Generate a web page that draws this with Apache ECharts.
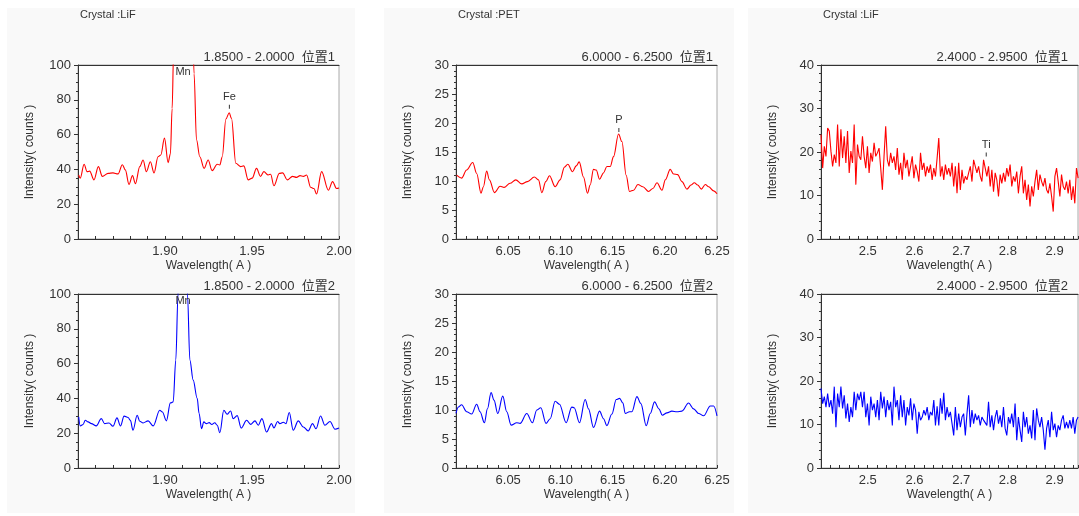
<!DOCTYPE html>
<html>
<head>
<meta charset="utf-8">
<title>Spectra</title>
<script src="https://cdn.jsdelivr.net/npm/echarts@6/dist/echarts.min.js"></script>
<style>
    html, body { margin: 0; padding: 0; background: #fff; }
    #main { width: 1079px; height: 516px; }
</style>
</head>
<body>
<div id="main"></div>
<script>
// LiF 1.85 - 2.00, 位置1 / 位置2  [wavelength, counts]
var lifPos1 = [
    [1.8504,36.8],[1.8513,35],[1.8535,43],[1.8552,38.7],[1.8567,39],[1.8592,34],[1.8617,41.6],[1.8640,36],
    [1.8673,37.7],[1.8701,38],[1.8730,37.4],[1.8755,42.7],[1.8772,39.7],[1.8793,31.4],[1.8813,36.4],[1.8830,31.8],
    [1.8855,41.6],[1.8874,45.4],[1.8893,38.7],[1.8916,44.4],[1.8937,38],[1.8960,47.3],[1.8976,48.3],[1.8997,58],
    [1.9018,43.9],[1.9031,49],[1.9041,75],[1.9050,110],[1.9066,180],[1.9104,250],[1.9133,220],[1.9158,130],
    [1.9167,95],[1.9181,57],[1.9200,47.3],[1.9225,40.6],[1.9248,45.4],[1.9271,39.3],[1.9300,43],[1.9315,42.5],
    [1.9329,47.3],[1.9350,69],[1.9369,72.6],[1.9382,69.3],[1.9407,43.5],[1.9434,41.6],[1.9453,42],[1.9478,34],
    [1.9501,35],[1.9526,40.6],[1.9549,36],[1.9568,38.7],[1.9593,36.8],[1.9607,37.2],[1.9626,30.6],[1.9657,37.7],
    [1.9676,38],[1.9703,34],[1.9733,36],[1.9756,35.4],[1.9776,36.4],[1.9795,36],[1.9814,36.8],[1.9837,29.7],
    [1.9856,29],[1.9871,25.9],[1.9900,38.7],[1.9939,28],[1.9963,33],[1.9986,29],[2.0000,29.3]
];
var lifPos2 = [
    [1.8504,29.4],[1.8513,24.2],[1.8529,25],[1.8542,27.4],[1.8558,26.5],[1.8577,25.5],[1.8605,24.2],[1.8634,28.4],
    [1.8653,25.5],[1.8678,25.9],[1.8701,24],[1.8724,28.8],[1.8744,24.2],[1.8765,29.8],[1.8788,29],[1.8801,27.4],
    [1.8816,21.7],[1.8840,30.3],[1.8855,26.9],[1.8874,25.9],[1.8903,27.1],[1.8932,24.2],[1.8970,33.2],[1.8985,32.2],
    [1.9008,27.1],[1.9031,37.4],[1.9047,38],[1.9062,62],[1.9075,100],[1.9085,140],[1.9102,170],[1.9118,140],
    [1.9129,100],[1.9143,62],[1.9162,50.5],[1.9185,40],[1.9196,31.3],[1.9210,22.6],[1.9223,26.5],[1.9238,25.5],
    [1.9254,26.1],[1.9269,25],[1.9286,26],[1.9300,24.6],[1.9315,20.3],[1.9338,33.2],[1.9357,30.9],[1.9377,32.8],
    [1.9392,28.4],[1.9415,30.1],[1.9438,23],[1.9469,27.4],[1.9492,25.1],[1.9517,27.1],[1.9536,24.6],[1.9557,28.4],
    [1.9584,20.7],[1.9612,25.5],[1.9626,23],[1.9647,26.7],[1.9660,25.5],[1.9680,26.3],[1.9695,25.5],[1.9714,31.9],
    [1.9737,21.7],[1.9766,27.1],[1.9795,23.6],[1.9823,21.3],[1.9848,25.5],[1.9868,22.6],[1.9894,29.9],[1.9919,24.6],
    [1.9948,26.7],[1.9977,22.3],[2.0000,23]
];

// PET 6.00 - 6.25
var petPos1 = [
    [6.0006,11.0],[6.0054,10.5],[6.0102,11.9],[6.0160,13.2],[6.0198,11.3],[6.0240,7.9],[6.0262,9],[6.0294,11.7],
    [6.0320,10.2],[6.0368,8.0],[6.0422,9.1],[6.0460,8.9],[6.0518,9.6],[6.0572,10.2],[6.0630,9.5],[6.0684,9.9],
    [6.0751,10.7],[6.0790,10.2],[6.0822,8.0],[6.0860,9.9],[6.0895,10.9],[6.0950,9.0],[6.0997,10.2],[6.1039,12.4],
    [6.1071,12.9],[6.1116,11.6],[6.1151,12.6],[6.1180,13.3],[6.1221,10.7],[6.1260,7.9],[6.1285,9.3],[6.1317,12.0],
    [6.1343,11.9],[6.1375,10.3],[6.1413,11.4],[6.1445,12.5],[6.1477,12.5],[6.1509,14.2],[6.1557,18.1],[6.1589,16.8],
    [6.1630,11.0],[6.1662,8.2],[6.1701,8.4],[6.1742,9.4],[6.1790,9.0],[6.1845,8.2],[6.1886,8.7],[6.1925,9.7],
    [6.1973,8.4],[6.2005,10.2],[6.2052,12.0],[6.2084,11.2],[6.2123,11.1],[6.2164,9.9],[6.2212,8.6],[6.2251,9.3],
    [6.2283,9.7],[6.2315,9.3],[6.2350,8.6],[6.2388,9.4],[6.2420,9.0],[6.2468,8.3],[6.2500,7.8]
];
var petPos2 = [
    [6.0000,9.4],[6.0022,10.5],[6.0054,10.9],[6.0102,9.7],[6.0150,9.3],[6.0198,11.0],[6.0230,9.7],[6.0272,7.8],
    [6.0301,10.2],[6.0336,13.0],[6.0364,11.7],[6.0400,9.4],[6.0448,12.4],[6.0486,9.7],[6.0528,7.4],[6.0582,7.8],
    [6.0614,7.7],[6.0678,9.4],[6.0732,7.8],[6.0774,10.0],[6.0812,10.4],[6.0863,7.7],[6.0902,8.5],[6.0950,11.5],
    [6.0991,11.0],[6.1055,7.8],[6.1109,10.5],[6.1132,10.4],[6.1183,7.8],[6.1237,11.8],[6.1269,10.2],[6.1317,7.0],
    [6.1375,9.8],[6.1413,8.5],[6.1445,7.3],[6.1493,9.3],[6.1535,11.8],[6.1567,12.0],[6.1599,11.2],[6.1621,9.4],
    [6.1662,9.7],[6.1685,9.7],[6.1733,12.3],[6.1771,11.1],[6.1822,7.3],[6.1861,9.4],[6.1902,11.4],[6.1944,10.2],
    [6.1976,9.1],[6.2021,9.5],[6.2068,9.8],[6.2116,9.7],[6.2164,9.8],[6.2228,11.2],[6.2276,10.2],[6.2324,9.4],
    [6.2372,9.0],[6.2436,10.7],[6.2468,10.7],[6.2500,9.0]
];

// LiF 2.40 - 2.95, counts at each scan step
var scanStart = 2.40;
var scanStep = 0.00355;
var tiPos1 = [
    24,16.3,21.3,19,25.5,24.8,20.2,16.7,19.4,17.5, 26.3,16.7,25.2,18.6,23.6,17.5,24.8,15.2,20.2,17.5,
    26.3,12.5,21.7,19,18.2,23.6,19,16.3,21.3,15.2, 19.8,17.8,22.1,19,19.8,20.9,16.3,11.3,19,25.9,
    18.2,16.7,19.8,17.5,19,15.9,20.9,14.8,17.5,13.6, 19.8,16.3,18.2,14.4,16.7,19,14,17.1,15.5,13.2,
    19.8,15.9,17.5,14.4,16.7,15.2,17.1,13.6,16.3,14.4, 18.6,23.2,14.4,16.7,13.6,17.1,14.8,16.3,14.4,17.5,
    12.1,16.7,10.5,17.5,11.3,15.9,12.8,14.4,13.6,15.2, 16.7,13.2,18.2,16.7,15.2,16.7,14.4,13.2,18.2,17.8,
    14.4,16.7,12.1,15.9,10.9,15.2,13.6,9.8,14.8,12.8, 15.2,13.2,16.3,14.4,17.1,12.1,14.4,13.2,15.5,10.5,
    14.4,16.7,10.5,13.6,9,12.5,7.5,12.1,9.8,13.2, 15.9,11.3,14.8,13.2,12.1,14,11.3,10.5,12.8,9.8,
    6.3,14.4,16.3,13.2,9.8,14.8,12.1,11.3,13.2,10.5, 13.6,9,12.1,8.2,16.3,14
];
var tiPos2 = [
    18.3,14.8,16.4,14,17.1,14,15.6,12.5,18.7,9.4, 17.1,14,18.7,13.7,16.7,11.4,14.8,10.6,14,11.7,
    17.5,13.3,17.1,15.6,17.5,14,17.5,11.7,14.8,9.8, 16.4,13.3,14.8,11.7,15.6,11,17.5,13.7,16.4,11.7,
    15.6,13.3,15.2,9.8,18.7,14,15.6,11,16.7,11.7, 15.6,9.8,14,12.1,16,11,14.8,13.3,7.9,12.9,
    11,11.7,13.3,12.1,14,11,12.9,12.1,15.6,9.8, 14.2,9.8,16,12.5,17.3,11,14,11.7,12.9,10.2,
    7.5,14,8.7,12.5,9.4,11.7,12.5,7.5,12.5,16.7, 9.4,13.3,10.2,12.5,11,12.1,9.8,11.7,11,11.4,
    9.8,15.2,9.4,12.1,8.7,11.7,13.3,10.2,12.1,9.4, 14,9.1,7.5,11.7,10.2,12.5,9.4,14.8,6.4,11.7,
    8.7,6,12.9,9.4,11.7,7.9,9.8,6.8,13.3,6.4, 13.7,11,9.4,11.7,8.7,4.2,9.1,11,7.1,12.9,
    8.7,10.2,7.1,9.8,8.7,11,12.1,9.1,10.6,9.1, 11,9.1,11.7,7.9,11,11.7
];

// element peaks [name, wavelength, counts of the marker, 'in' = label under the top edge]
var peaks1 = [['Mn', 1.9104, 100, 'in'], ['Fe', 1.937, 76]];
var peaks2 = [['Mn', 1.9104, 100, 'in']];
var peaks3 = [['P', 6.156, 18.8]];
var peaks5 = [['Ti', 2.7536, 19.4]];

// panel settings
var panels = [
    {crystal: 'LiF', min: 1.85, max: 2.00, xInt: 0.05, dec: 2, yMax: 100, yInt: 20, yMinor: 4, left: 78, width: 261},
    {crystal: 'PET', min: 6.00, max: 6.25, xInt: 0.05, dec: 2, yMax: 30, yInt: 5, yMinor: 5, left: 456, width: 261},
    {crystal: 'LiF', min: 2.40, max: 2.95, xInt: 0.1, dec: 1, yMax: 40, yInt: 10, yMinor: 5, left: 821, width: 257}
];
var rangeText = ['1.8500 - 2.0000', '6.0000 - 6.2500', '2.4000 - 2.9500'];
var headRight = [335, 713, 1068];
var panelBox = [[7, 355], [384, 734], [748, 1079]];
var rowTop = [65, 294];

var FONT = '"Liberation Sans", Arial, "Noto Sans CJK SC", sans-serif';
var TXT = '#333';

function scanData(values) {
    var out = [];
    for (var i = 0; i < values.length; i++) {
        out.push([+(scanStart + i * scanStep).toFixed(5), values[i]]);
    }
    return out;
}

function peakMarks(list) {
    var res = [];
    for (var i = 0; i < list.length; i++) {
        var p = list[i];
        var item = {name: p[0], coord: [p[1], p[2]]};
        if (p[3] === 'in') {
            item.symbolSize = 0;
            item.label = {position: 'bottom', distance: 1};
        }
        res.push(item);
    }
    return {
        symbol: 'rect',
        symbolSize: [1, 4],
        itemStyle: {color: TXT},
        label: {show: true, position: 'top', distance: 2, formatter: '{b}', color: TXT, fontSize: 11, fontFamily: FONT},
        data: res
    };
}

function labelFormatter(dec) {
    return function (v) { return v.toFixed(dec); };
}

function drawSpectra() {
    var myChart = echarts.init(document.getElementById('main'));

    var grids = [], xAxes = [], yAxes = [], graphics = [];
    var series = [];
    var seriesData = [lifPos1, lifPos2, petPos1, petPos2, scanData(tiPos1), scanData(tiPos2)];
    var peakList = [peaks1, peaks2, peaks3, null, peaks5, null];

    for (var p = 0; p < panels.length; p++) {
        var pn = panels[p];
        // panel background + crystal caption
        graphics.push({
            type: 'rect', z: -10, silent: true,
            shape: {x: panelBox[p][0], y: 8, width: panelBox[p][1] - panelBox[p][0], height: 505},
            style: {fill: '#f9f9f9'}
        });
        graphics.push({
            type: 'text', x: pn.left + 2, y: 15,
            style: {text: 'Crystal :' + pn.crystal, font: '11px ' + FONT, fill: TXT, verticalAlign: 'middle'}
        });

        for (var r = 0; r < 2; r++) {
            var gi = p * 2 + r;
            var col = r === 0 ? '#ff0000' : '#0000ff';
            grids.push({
                left: pn.left, top: rowTop[r], width: pn.width, height: 174,
                show: true, backgroundColor: '#fff', borderColor: '#aaa', borderWidth: 1,
                containLabel: false, outerBoundsMode: 'none'
            });
            graphics.push({
                type: 'text', x: headRight[p], y: rowTop[r] - 8,
                style: {text: rangeText[p] + '  位置' + (r + 1), font: '13px ' + FONT, fill: TXT,
                    align: 'right', verticalAlign: 'middle'}
            });

            // bottom wavelength axis
            xAxes.push({
                type: 'value', gridIndex: gi, min: pn.min, max: pn.max, interval: pn.xInt,
                name: 'Wavelength( A )', nameLocation: 'middle', nameGap: 21,
                nameTextStyle: {color: TXT, fontSize: 12, fontFamily: FONT},
                axisLine: {show: true, onZero: false, lineStyle: {color: '#333'}},
                axisTick: {show: true, inside: true, length: 3, lineStyle: {color: '#333'}},
                minorTick: {show: true, splitNumber: 5, length: 3, lineStyle: {color: '#333'}},
                axisLabel: {color: TXT, fontSize: 13, fontFamily: FONT, margin: 6,
                    showMinLabel: false, showMaxLabel: p !== 2, formatter: labelFormatter(pn.dec)},
                splitLine: {show: false}
            });
            // top frame line
            xAxes.push({
                type: 'value', gridIndex: gi, position: 'top', min: pn.min, max: pn.max,
                axisLine: {show: true, onZero: false, lineStyle: {color: '#333'}},
                axisTick: {show: false}, axisLabel: {show: false}, splitLine: {show: false}
            });
            yAxes.push({
                type: 'value', gridIndex: gi, min: 0, max: pn.yMax, interval: pn.yInt,
                name: 'Intensity( counts )', nameLocation: 'middle', nameGap: 42,
                nameTextStyle: {color: TXT, fontSize: 12, fontFamily: FONT},
                axisLine: {show: true, onZero: false, lineStyle: {color: '#333'}},
                axisTick: {show: true, length: 4, lineStyle: {color: '#333'}},
                minorTick: {show: true, splitNumber: pn.yMinor, length: 2, lineStyle: {color: '#333'}},
                axisLabel: {color: TXT, fontSize: 13, fontFamily: FONT, margin: 7},
                splitLine: {show: false}
            });

            var s = {
                type: 'line',
                xAxisIndex: gi * 2, yAxisIndex: gi,
                data: seriesData[gi],
                showSymbol: false, symbol: 'none',
                smooth: p === 2 ? false : 0.35,
                smoothMonotone: 'x',
                clip: true,
                lineStyle: {color: col, width: 1.1},
                itemStyle: {color: col}
            };
            if (peakList[gi]) {
                s.markPoint = peakMarks(peakList[gi]);
            }
            series.push(s);
        }
    }

    var option = {
        animation: false,
        backgroundColor: '#fff',
        textStyle: {fontFamily: FONT},
        grid: grids,
        xAxis: xAxes,
        yAxis: yAxes,
        graphic: graphics,
        series: series
    };
    myChart.setOption(option);
}

drawSpectra();
</script>
</body>
</html>
